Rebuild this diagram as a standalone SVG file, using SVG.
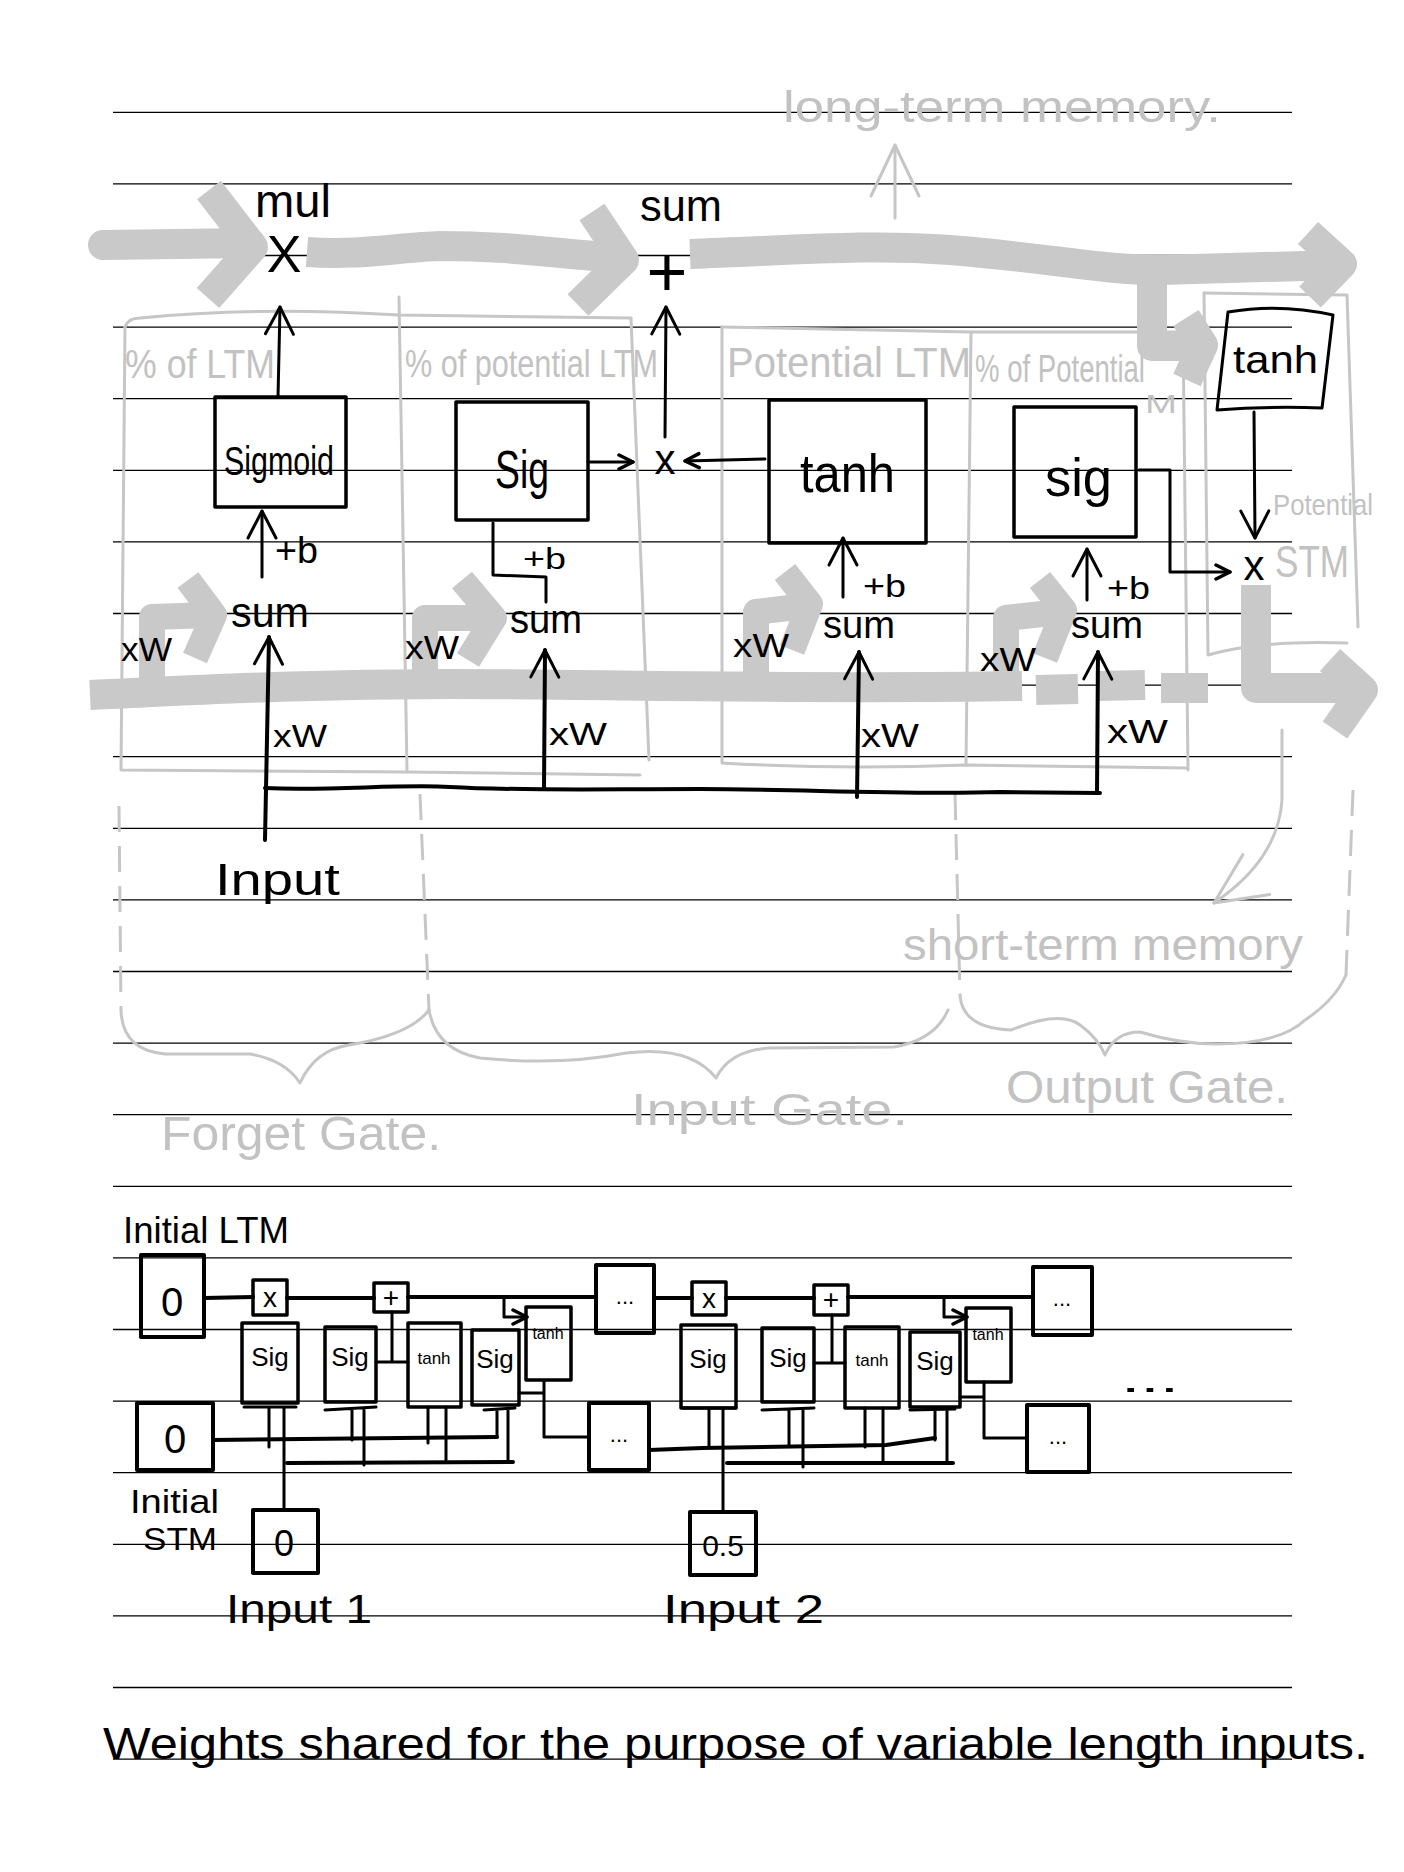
<svg xmlns="http://www.w3.org/2000/svg" width="1404" height="1872" viewBox="0 0 1404 1872">
<defs>
<style>
.rule{stroke:#000;stroke-width:1.3}
.gp{fill:none;stroke:#c9c9c9;stroke-width:30;stroke-linejoin:round;stroke-linecap:butt}
.gpr{fill:none;stroke:#c9c9c9;stroke-width:30;stroke-linecap:round}
.gs{fill:none;stroke:#c9c9c9;stroke-width:26;stroke-linejoin:round;stroke-linecap:butt}
.gl{fill:none;stroke:#c6c6c6;stroke-width:3;stroke-linecap:round;stroke-linejoin:round}
.gd{fill:none;stroke:#c6c6c6;stroke-width:3;stroke-dasharray:26 14}
.bx{fill:none;stroke:#000;stroke-width:3.5;stroke-linejoin:round}
.bs{fill:none;stroke:#000;stroke-width:4;stroke-linejoin:round}
.ln{fill:none;stroke:#000;stroke-width:3;stroke-linecap:round;stroke-linejoin:round}
.lt{fill:none;stroke:#000;stroke-width:4;stroke-linecap:round;stroke-linejoin:round}
.t{font-family:"Liberation Sans",Arial,sans-serif;fill:#000}
.g{font-family:"Liberation Sans",Arial,sans-serif;fill:#c2c2c2}
.m{text-anchor:middle}
</style>
<marker id="ah" viewBox="0 0 36 36" refX="33" refY="18" markerWidth="36" markerHeight="36" markerUnits="userSpaceOnUse" orient="auto">
<path d="M6,4 L33,18 L6,32" fill="none" stroke="#000" stroke-width="3" stroke-linecap="round" stroke-linejoin="round"/>
</marker>
<marker id="ahs" viewBox="0 0 20 20" refX="18" refY="10" markerWidth="20" markerHeight="20" markerUnits="userSpaceOnUse" orient="auto">
<path d="M4,3 L18,10 L4,17" fill="none" stroke="#000" stroke-width="3.5" stroke-linecap="round" stroke-linejoin="round"/>
</marker>
<marker id="ahg" viewBox="0 0 60 60" refX="57" refY="30" markerWidth="60" markerHeight="60" markerUnits="userSpaceOnUse" orient="auto">
<path d="M6,6 L57,30 L6,54" fill="none" stroke="#c6c6c6" stroke-width="3" stroke-linecap="round" stroke-linejoin="round"/>
</marker>
</defs>
<rect width="1404" height="1872" fill="#fff"/>

<g id="ruled-lines">
<line class="rule" x1="113" y1="112.3" x2="1292" y2="112.3"/>
<line class="rule" x1="113" y1="183.9" x2="1292" y2="183.9"/>
<line class="rule" x1="113" y1="255.5" x2="1292" y2="255.5"/>
<line class="rule" x1="113" y1="327.1" x2="1292" y2="327.1"/>
<line class="rule" x1="113" y1="398.7" x2="1292" y2="398.7"/>
<line class="rule" x1="113" y1="470.3" x2="1292" y2="470.3"/>
<line class="rule" x1="113" y1="541.9" x2="1292" y2="541.9"/>
<line class="rule" x1="113" y1="613.5" x2="1292" y2="613.5"/>
<line class="rule" x1="113" y1="685.1" x2="1292" y2="685.1"/>
<line class="rule" x1="113" y1="756.7" x2="1292" y2="756.7"/>
<line class="rule" x1="113" y1="828.3" x2="1292" y2="828.3"/>
<line class="rule" x1="113" y1="899.9" x2="1292" y2="899.9"/>
<line class="rule" x1="113" y1="971.5" x2="1292" y2="971.5"/>
<line class="rule" x1="113" y1="1043.1" x2="1292" y2="1043.1"/>
<line class="rule" x1="113" y1="1114.7" x2="1292" y2="1114.7"/>
<line class="rule" x1="113" y1="1186.3" x2="1292" y2="1186.3"/>
<line class="rule" x1="113" y1="1257.9" x2="1292" y2="1257.9"/>
<line class="rule" x1="113" y1="1329.5" x2="1292" y2="1329.5"/>
<line class="rule" x1="113" y1="1401.1" x2="1292" y2="1401.1"/>
<line class="rule" x1="113" y1="1472.7" x2="1292" y2="1472.7"/>
<line class="rule" x1="113" y1="1544.3" x2="1292" y2="1544.3"/>
<line class="rule" x1="113" y1="1615.9" x2="1292" y2="1615.9"/>
<line class="rule" x1="113" y1="1687.5" x2="1292" y2="1687.5"/>
<line class="rule" x1="113" y1="1759.1" x2="1292" y2="1759.1"/>
</g>

<g id="gate-regions">
<path class="gl" d="M125,327 Q128,318 140,318 Q260,306 399,315 L631,318"/>
<path class="gl" d="M125,327 L121,770 L407,772 L640,775"/>
<path class="gl" d="M399,297 L407,772"/>
<path class="gl" d="M631,318 L649,760"/>
<path class="gl" d="M722,327 L971,332 L1183,332"/>
<path class="gl" d="M722,327 L722,763 Q840,770 966,765 L1188,768"/>
<path class="gl" d="M971,332 L966,765"/>
<path class="gl" d="M1183,332 L1188,770"/>
<path class="gl" d="M1204,293 L1347,295 L1358,627"/>
<path class="gl" d="M1204,293 L1208,655 Q1260,640 1347,643"/>
<text class="g" x="125" y="378" font-size="40" textLength="150" lengthAdjust="spacingAndGlyphs">% of LTM</text>
<text class="g" x="405" y="377" font-size="38" textLength="253" lengthAdjust="spacingAndGlyphs">% of potential LTM</text>
<text class="g" x="727" y="377" font-size="42" textLength="244" lengthAdjust="spacingAndGlyphs">Potential LTM</text>
<text class="g" x="975" y="382" font-size="38" textLength="170" lengthAdjust="spacingAndGlyphs">% of Potential</text>
<text class="g" x="1145" y="413" font-size="26" textLength="32" lengthAdjust="spacingAndGlyphs">M</text>
</g>

<g id="gate-braces">
<path class="gd" d="M119,806 L121,1010"/>
<path class="gd" d="M420,794 L429,1010"/>
<path class="gd" d="M955,794 L960,995"/>
<path class="gd" d="M1353,790 L1346,975"/>
<path class="gl" d="M121,1010 Q122,1050 165,1054 L250,1054 Q285,1060 300,1083 Q315,1050 349,1045 Q410,1035 429,1010"/>
<path class="gl" d="M429,1010 Q436,1050 480,1058 Q560,1066 626,1053 Q690,1045 716,1078 Q730,1050 770,1048 L894,1047 Q935,1040 948,1010"/>
<path class="gl" d="M960,995 Q962,1028 1011,1030 Q1060,1010 1080,1025 Q1098,1038 1105,1055 Q1115,1032 1140,1032 Q1180,1044 1216,1044 Q1280,1044 1305,1020 Q1335,1000 1346,975"/>
<text class="g" x="161" y="1150" font-size="48" textLength="280" lengthAdjust="spacingAndGlyphs">Forget Gate.</text>
<text class="g" x="631" y="1125" font-size="44" textLength="277" lengthAdjust="spacingAndGlyphs">Input Gate.</text>
<text class="g" x="1006" y="1103" font-size="46" textLength="282" lengthAdjust="spacingAndGlyphs">Output Gate.</text>
</g>

<g id="gray-paths">
<path class="gpr" d="M103,245 L250,243"/>
<path class="gp" d="M209,190 L253,247 L208,298"/>
<path class="gp" d="M307,252 C360,256 400,247 440,246 C520,246 560,255 625,258"/>
<path class="gp" d="M592,212 L624,260 L578,305"/>
<path class="gp" d="M690,254 C800,250 870,244 950,250 C1050,258 1100,270 1160,270 L1338,265"/>
<path class="gp" d="M1308,233 L1342,264 L1310,297"/>
<path class="gp" d="M1152,266 L1152,346 L1195,346"/>
<path class="gp" d="M1186,318 L1203,345 L1187,380"/>
<path class="gp" d="M90,695 C200,690 300,684 450,684 C600,684 800,690 1022,686"/>
<path class="gp" d="M1036,690 L1078,689"/>
<path class="gp" d="M1096,686 L1145,685"/>
<path class="gp" d="M1161,688 L1208,688"/>
<path class="gp" d="M1256,585 L1256,688 L1345,688"/>
<path class="gp" d="M1330,660 L1363,690 L1335,730"/>
<path class="gs" d="M152,692 L152,617 L210,615"/>
<path class="gs" d="M188,580 L214,615 L195,658"/>
<path class="gs" d="M425,692 L425,618 L490,618"/>
<path class="gs" d="M462,580 L494,618 L468,660"/>
<path class="gs" d="M756,692 L756,612 L805,606"/>
<path class="gs" d="M785,572 L810,604 L792,650"/>
<path class="gs" d="M1006,692 L1006,618 L1060,612"/>
<path class="gs" d="M1040,580 L1064,610 L1045,658"/>
</g>

<g id="memory-labels">
<path class="gl" d="M895,218 L895,145" marker-end="url(#ahg)"/>
<text class="g" x="783" y="122" font-size="44" textLength="438" lengthAdjust="spacingAndGlyphs">long-term memory.</text>
<path class="gl" d="M1282,730 L1282,800 Q1278,860 1214,903" marker-end="url(#ahg)"/>
<text class="g" x="903" y="960" font-size="44" textLength="400" lengthAdjust="spacingAndGlyphs">short-term memory</text>
<text class="g" x="1273" y="515" font-size="30" textLength="100" lengthAdjust="spacingAndGlyphs">Potential</text>
<text class="g" x="1275" y="577" font-size="44" textLength="74" lengthAdjust="spacingAndGlyphs">STM</text>
</g>

<g id="connectors">
<path class="ln" d="M278,397 L280,307" marker-end="url(#ah)"/>
<path class="ln" d="M262,577 L262,511" marker-end="url(#ah)"/>
<path class="ln" d="M665,437 L666,307" marker-end="url(#ah)"/>
<path class="ln" d="M588,462 L633,462" marker-end="url(#ahs)"/>
<path class="ln" d="M765,459 L685,461" marker-end="url(#ahs)"/>
<path class="ln" d="M493,523 L493,575 L546,577 L546,602"/>
<path class="ln" d="M843,597 L843,538" marker-end="url(#ah)"/>
<path class="ln" d="M1087,600 L1087,549" marker-end="url(#ah)"/>
<path class="ln" d="M1139,470 L1170,470 L1170,572 L1230,572" marker-end="url(#ahs)"/>
<path class="ln" d="M1254,412 L1255,538" marker-end="url(#ah)"/>
<path class="lt" d="M265,840 L269,637" marker-end="url(#ah)"/>
<path class="lt" d="M544,788 L545,650" marker-end="url(#ah)"/>
<path class="lt" d="M857,797 L859,652" marker-end="url(#ah)"/>
<path class="lt" d="M1097,793 L1098,652" marker-end="url(#ah)"/>
<path class="lt" d="M265,788 C330,791 400,784 450,787 C520,791 600,789 700,789 C800,789 900,795 1000,792 L1100,793"/>
<text class="t" x="121" y="661" font-size="34" textLength="51" lengthAdjust="spacingAndGlyphs">xW</text>
<text class="t" x="405" y="659" font-size="34" textLength="54" lengthAdjust="spacingAndGlyphs">xW</text>
<text class="t" x="733" y="657" font-size="34" textLength="56" lengthAdjust="spacingAndGlyphs">xW</text>
<text class="t" x="980" y="671" font-size="34" textLength="56" lengthAdjust="spacingAndGlyphs">xW</text>
<text class="t" x="273" y="747" font-size="32" textLength="54" lengthAdjust="spacingAndGlyphs">xW</text>
<text class="t" x="549" y="745" font-size="32" textLength="58" lengthAdjust="spacingAndGlyphs">xW</text>
<text class="t" x="861" y="747" font-size="34" textLength="58" lengthAdjust="spacingAndGlyphs">xW</text>
<text class="t" x="1107" y="743" font-size="34" textLength="61" lengthAdjust="spacingAndGlyphs">xW</text>
<text class="t" x="275" y="563" font-size="36" textLength="43" lengthAdjust="spacingAndGlyphs">+b</text>
<text class="t" x="523" y="569" font-size="30" textLength="43" lengthAdjust="spacingAndGlyphs">+b</text>
<text class="t" x="863" y="597" font-size="32" textLength="43" lengthAdjust="spacingAndGlyphs">+b</text>
<text class="t" x="1107" y="599" font-size="32" textLength="43" lengthAdjust="spacingAndGlyphs">+b</text>
</g>

<g id="op-mul">
<text class="t" x="255" y="217" font-size="46" textLength="76" lengthAdjust="spacingAndGlyphs">mul</text>
<text class="t m" x="284" y="272" font-size="52">X</text>
</g>
<g id="op-sum">
<text class="t" x="640" y="221" font-size="44" textLength="82" lengthAdjust="spacingAndGlyphs">sum</text>
<text class="t m" x="667" y="296" font-size="70">+</text>
</g>
<g id="op-mul-input">
<text class="t m" x="665" y="474" font-size="42">x</text>
</g>
<g id="op-mul-output">
<text class="t m" x="1254" y="580" font-size="42">x</text>
</g>
<g id="sum-1"><text class="t" x="231" y="627" font-size="42" textLength="78" lengthAdjust="spacingAndGlyphs">sum</text></g>
<g id="sum-2"><text class="t" x="510" y="633" font-size="40" textLength="72" lengthAdjust="spacingAndGlyphs">sum</text></g>
<g id="sum-3"><text class="t" x="823" y="638" font-size="38" textLength="72" lengthAdjust="spacingAndGlyphs">sum</text></g>
<g id="sum-4"><text class="t" x="1071" y="638" font-size="38" textLength="72" lengthAdjust="spacingAndGlyphs">sum</text></g>

<g id="box-sigmoid">
<rect class="bx" x="215" y="397" width="131" height="110"/>
<text class="t" x="224" y="475" font-size="40" textLength="110" lengthAdjust="spacingAndGlyphs">Sigmoid</text>
</g>
<g id="box-sig-input">
<rect class="bx" x="456" y="402" width="132" height="118"/>
<text class="t" x="495" y="488" font-size="54" textLength="54" lengthAdjust="spacingAndGlyphs">Sig</text>
</g>
<g id="box-tanh-input">
<rect class="bx" x="769" y="400" width="157" height="143"/>
<text class="t" x="800" y="492" font-size="54" textLength="95" lengthAdjust="spacingAndGlyphs">tanh</text>
</g>
<g id="box-sig-output">
<rect class="bx" x="1014" y="407" width="122" height="130"/>
<text class="t" x="1045" y="496" font-size="54" textLength="67" lengthAdjust="spacingAndGlyphs">sig</text>
</g>
<g id="box-tanh-output">
<path class="ln" d="M1228,312 Q1280,303 1333,315 L1322,408 Q1270,406 1217,410 Z" stroke-width="2.5"/>
<text class="t" x="1233" y="373" font-size="38" textLength="85" lengthAdjust="spacingAndGlyphs">tanh</text>
</g>
<g id="input-label">
<text class="t" x="215" y="895" font-size="44" textLength="125" lengthAdjust="spacingAndGlyphs">Input</text>
</g>

<g id="unrolled-connectors">
<path class="lt" d="M204,1298 L253,1297"/>
<path class="lt" d="M287,1298 L374,1298"/>
<path class="lt" d="M408,1297 L596,1297"/>
<path class="ln" d="M504,1297 L504,1317 L527,1317" marker-end="url(#ahs)"/>
<path class="lt" d="M654,1298 L692,1298"/>
<path class="ln" d="M392,1312 L392,1362 M376,1362 L408,1362"/>
<path class="ln" d="M519,1393 L544,1393 M544,1380 L544,1437 L589,1437"/>
<path class="lt" d="M213,1440 L497,1437"/>
<path class="lt" d="M287,1463 L513,1462"/>
<path class="ln" d="M244,1407 L296,1407 M269,1407 L269,1447 M284,1407 L284,1510"/>
<path class="ln" d="M325,1410 L376,1407 M352,1410 L352,1440 M364,1410 L364,1465"/>
<path class="ln" d="M428,1407 L428,1443 M446,1407 L446,1460"/>
<path class="ln" d="M484,1410 L515,1408 M497,1410 L497,1437 M508,1410 L508,1462"/>
<path class="lt" d="M649,1450 L702,1448 L886,1445 L935,1438"/>
<path class="lt" d="M726,1298 L814,1298"/>
<path class="lt" d="M848,1297 L1033,1297"/>
<path class="ln" d="M944,1297 L944,1317 L967,1317" marker-end="url(#ahs)"/>
<path class="ln" d="M832,1315 L832,1363 M814,1363 L845,1363"/>
<path class="ln" d="M960,1397 L984,1397 M984,1382 L984,1438 L1027,1438"/>
<path class="lt" d="M727,1463 L953,1463"/>
<path class="ln" d="M683,1408 L736,1408 M709,1408 L709,1447 M723,1408 L723,1512"/>
<path class="ln" d="M762,1410 L814,1408 M789,1410 L789,1445 M803,1410 L803,1467"/>
<path class="ln" d="M865,1408 L865,1447 M883,1408 L883,1462"/>
<path class="ln" d="M910,1410 L955,1409 M935,1410 L935,1440 M947,1410 L947,1463"/>
</g>

<g id="initial-ltm">
<rect class="bs" x="141" y="1255" width="63" height="82"/>
<text class="t m" x="172" y="1316" font-size="40">0</text>
<text class="t" x="123" y="1243" font-size="36" textLength="166" lengthAdjust="spacingAndGlyphs">Initial LTM</text>
</g>
<g id="initial-stm">
<rect class="bs" x="137" y="1403" width="76" height="67"/>
<text class="t m" x="175" y="1453" font-size="40">0</text>
<text class="t" x="130" y="1513" font-size="34" textLength="89" lengthAdjust="spacingAndGlyphs">Initial</text>
<text class="t" x="143" y="1550" font-size="32" textLength="74" lengthAdjust="spacingAndGlyphs">STM</text>
</g>
<g id="c1-mul"><rect class="bx" x="253" y="1280" width="34" height="35"/><text class="t m" x="270" y="1307" font-size="28">x</text></g>
<g id="c1-sum"><rect class="bx" x="374" y="1283" width="34" height="29"/><text class="t m" x="391" y="1307" font-size="28">+</text></g>
<g id="c1-ltm-out"><rect class="bs" x="596" y="1265" width="58" height="68"/><text class="t m" x="625" y="1304" font-size="22">...</text></g>
<g id="c1-sig-a"><rect class="bx" x="242" y="1323" width="56" height="80"/><text class="t m" x="270" y="1366" font-size="26">Sig</text></g>
<g id="c1-sig-b"><rect class="bx" x="325" y="1327" width="51" height="75"/><text class="t m" x="350" y="1366" font-size="26">Sig</text></g>
<g id="c1-tanh"><rect class="bx" x="408" y="1323" width="53" height="84"/><text class="t m" x="434" y="1364" font-size="17">tanh</text></g>
<g id="c1-sig-c"><rect class="bx" x="472" y="1330" width="47" height="75"/><text class="t m" x="495" y="1368" font-size="26">Sig</text></g>
<g id="c1-tanh-out"><rect class="bx" x="526" y="1307" width="45" height="73"/><text class="t m" x="548" y="1339" font-size="16">tanh</text></g>
<g id="c1-stm-out"><rect class="bs" x="589" y="1403" width="60" height="67"/><text class="t m" x="619" y="1442" font-size="22">...</text></g>
<g id="input-1">
<rect class="bs" x="253" y="1510" width="65" height="63"/>
<text class="t m" x="284" y="1556" font-size="36">0</text>
<text class="t" x="226" y="1623" font-size="40" textLength="146" lengthAdjust="spacingAndGlyphs">Input 1</text>
</g>
<g id="c2-mul"><rect class="bx" x="692" y="1282" width="34" height="33"/><text class="t m" x="709" y="1308" font-size="28">x</text></g>
<g id="c2-sum"><rect class="bx" x="814" y="1285" width="34" height="30"/><text class="t m" x="831" y="1309" font-size="28">+</text></g>
<g id="c2-ltm-out"><rect class="bs" x="1033" y="1267" width="59" height="68"/><text class="t m" x="1062" y="1306" font-size="22">...</text></g>
<g id="c2-sig-a"><rect class="bx" x="681" y="1325" width="55" height="83"/><text class="t m" x="708" y="1368" font-size="26">Sig</text></g>
<g id="c2-sig-b"><rect class="bx" x="762" y="1328" width="52" height="74"/><text class="t m" x="788" y="1367" font-size="26">Sig</text></g>
<g id="c2-tanh"><rect class="bx" x="845" y="1327" width="54" height="81"/><text class="t m" x="872" y="1366" font-size="17">tanh</text></g>
<g id="c2-sig-c"><rect class="bx" x="910" y="1332" width="50" height="75"/><text class="t m" x="935" y="1370" font-size="26">Sig</text></g>
<g id="c2-tanh-out"><rect class="bx" x="966" y="1308" width="45" height="74"/><text class="t m" x="988" y="1340" font-size="16">tanh</text></g>
<g id="c2-stm-out"><rect class="bs" x="1027" y="1405" width="62" height="67"/><text class="t m" x="1058" y="1444" font-size="22">...</text></g>
<g id="input-2">
<rect class="bs" x="690" y="1512" width="66" height="63"/>
<text class="t m" x="723" y="1556" font-size="30">0.5</text>
<text class="t" x="663" y="1623" font-size="40" textLength="161" lengthAdjust="spacingAndGlyphs">Input 2</text>
</g>
<g id="more-cells"><text class="t" x="1121" y="1392" font-size="36" textLength="58" lengthAdjust="spacingAndGlyphs">...</text></g>

<g id="caption">
<text class="t" x="103" y="1759" font-size="45" textLength="1265" lengthAdjust="spacingAndGlyphs">Weights shared  for the purpose of variable length inputs.</text>
</g>
</svg>
